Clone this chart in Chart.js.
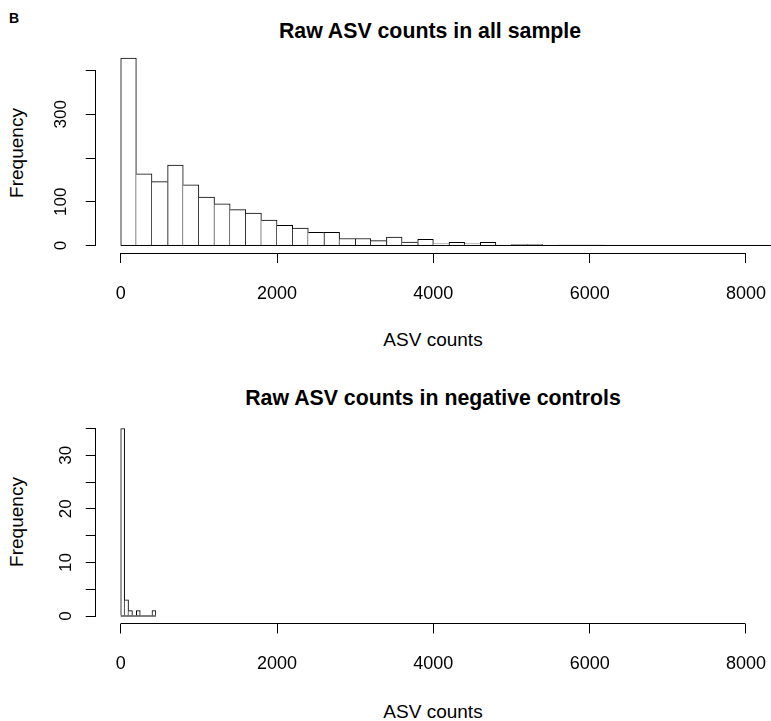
<!DOCTYPE html>
<html>
<head>
<meta charset="utf-8">
<script src="https://cdn.jsdelivr.net/npm/chart.js@4.4.0/dist/chart.umd.min.js"></script>
<style>
body { margin: 0; background: #fff; }
#wrap { position: relative; width: 771px; height: 721px; font-family: "Liberation Sans", Arial, sans-serif; color: #000; overflow: hidden; }
canvas { position: absolute; left: 0; }
.t { position: absolute; white-space: nowrap; transform: translate(-50%, -50%); }
.main { font-weight: bold; font-size: 21.3px; }
.lab { font-size: 19px; }
.rot { transform: translate(-50%, -50%) rotate(-90deg); }
</style>
</head>
<body>
<div id="wrap">
  <div class="t" style="left:14px;top:18px;font-weight:bold;font-size:14px">B</div>
  <div class="t main" style="left:430px;top:31px">Raw ASV counts in all sample</div>
  <div class="t lab" style="left:433px;top:340px">ASV counts</div>
  <div class="t lab rot" style="left:17px;top:153px">Frequency</div>
  <div class="t main" style="left:433px;top:398px">Raw ASV counts in negative controls</div>
  <div class="t lab" style="left:433px;top:712px">ASV counts</div>
  <div class="t lab rot" style="left:17px;top:522px">Frequency</div>
  <canvas id="histAll" width="771" height="360" style="top:0"></canvas>
  <canvas id="histNeg" width="771" height="361" style="top:360px"></canvas>
</div>
<script>
// histogram bins (counts per bin, bins start at 0)
var binWidthAll = 200;
var countsAll = [429, 164, 146, 184, 139, 111, 95, 82, 74, 58,
                 46, 40, 30, 30, 16, 16, 11, 19, 8, 14,
                 4, 7, 4, 7, 0, 2, 2, 0, 1, 1,
                 1, 0, 0, 0, 0, 0, 0, 0, 0, 0, 0, 0];

var binWidthNeg = 50;
var countsNeg = [35, 3, 1, 0, 1, 0, 0, 0, 1];

// axes
var xTicks = [0, 2000, 4000, 6000, 8000];
var yTicksAll = [0, 100, 200, 300, 400];
var yLabelsAll = [0, 100, 300];
var yTicksNeg = [0, 5, 10, 15, 20, 25, 30, 35];
var yLabelsNeg = [0, 10, 20, 30];

var fontFam = '"Liberation Sans", Arial, sans-serif';

// bordi: la barra più alta possiede il lato in comune
function edgeWidths(counts, i) {
    var h = counts[i];
    if (!h) return 0;
    var prev = i > 0 ? counts[i - 1] : 0;
    var next = i < counts.length - 1 ? counts[i + 1] : 0;
    return { top: 1, bottom: 0, left: h >= prev ? 1 : 0, right: h > next ? 1 : 0 };
}

function align(v) {
    return Math.round(v - 0.5) + 0.5;
}

// R style axes: line only from first to last tick, plus bin baseline
var rAxes = {
    id: 'rAxes',
    afterDatasetsDraw: function (chart, args, opts) {
        var ctx = chart.ctx, area = chart.chartArea;
        var x = chart.scales.x, y = chart.scales.y;
        ctx.save();
        ctx.strokeStyle = '#000';
        ctx.lineWidth = 1;
        ctx.beginPath();
        // base of the bins
        var yb = y.getPixelForValue(0);
        ctx.moveTo(x.getPixelForValue(0), yb);
        ctx.lineTo(Math.min(x.getPixelForValue(opts.lastEdge), area.right), yb);
        // x axis
        var xa = align(area.bottom);
        ctx.moveTo(align(x.getPixelForValue(xTicks[0])), xa);
        ctx.lineTo(align(x.getPixelForValue(xTicks[xTicks.length - 1])), xa);
        // y axis
        var ya = align(area.left);
        ctx.moveTo(ya, align(y.getPixelForValue(opts.yTicks[0])));
        ctx.lineTo(ya, align(y.getPixelForValue(opts.yTicks[opts.yTicks.length - 1])));
        ctx.stroke();
        ctx.restore();
    }
};

function drawHist(id, counts, binW, yMin, yMax, yTicks, yLabels, top, bottom, h) {
    var pts = counts.map(function (c, i) {
        return { x: i * binW + binW / 2, y: c };
    });
    return new Chart(document.getElementById(id), {
        type: 'bar',
        data: {
            datasets: [{
                data: pts,
                backgroundColor: '#fff',
                borderColor: '#000',
                borderSkipped: false,
                borderWidth: function (c) { return edgeWidths(counts, c.dataIndex); },
                barPercentage: 1,
                categoryPercentage: 1
            }]
        },
        options: {
            responsive: false,
            animation: false,
            devicePixelRatio: 1,
            layout: { padding: { top: top, left: 0, right: 0, bottom: 0 } },
            plugins: {
                legend: { display: false },
                tooltip: { enabled: false },
                rAxes: { lastEdge: counts.length * binW, yTicks: yTicks }
            },
            scales: {
                x: {
                    type: 'linear',
                    min: -320,
                    max: 8320,
                    offset: false,
                    afterBuildTicks: function (s) { s.ticks = xTicks.map(function (v) { return { value: v }; }); },
                    afterFit: function (s) { s.height = h - bottom; s.paddingLeft = 0; s.paddingRight = 0; },
                    grid: { offset: false, drawOnChartArea: false, drawTicks: true, tickLength: 10, color: '#000', lineWidth: 1 },
                    border: { display: false },
                    ticks: {
                        font: { family: fontFam, size: 18 },
                        color: '#000',
                        padding: 20,
                        maxRotation: 0,
                        autoSkip: false,
                        callback: function (v) { return String(v); }
                    }
                },
                y: {
                    min: yMin,
                    max: yMax,
                    afterBuildTicks: function (s) { s.ticks = yTicks.map(function (v) { return { value: v }; }); },
                    afterFit: function (s) { s.width = 95.7; s.paddingTop = 0; s.paddingBottom = 0; },
                    grid: { drawOnChartArea: false, drawTicks: true, tickLength: 10, color: '#000', lineWidth: 1 },
                    border: { display: false },
                    ticks: {
                        font: { family: fontFam, size: 17 },
                        color: '#000',
                        padding: 10,
                        minRotation: 90,
                        maxRotation: 90,
                        crossAlign: 'center',
                        autoSkip: false,
                        callback: function (v) { return yLabels.indexOf(v) >= 0 ? String(v) : ''; }
                    }
                }
            }
        },
        plugins: [rAxes]
    });
}

drawHist('histAll', countsAll, binWidthAll, -17.2, 447.2, yTicksAll, yLabelsAll, 50, 253, 360);
drawHist('histNeg', countsNeg, binWidthNeg, -1.4, 36.4, yTicksNeg, yLabelsNeg, 61, 263.5, 361);
</script>
</body>
</html>
